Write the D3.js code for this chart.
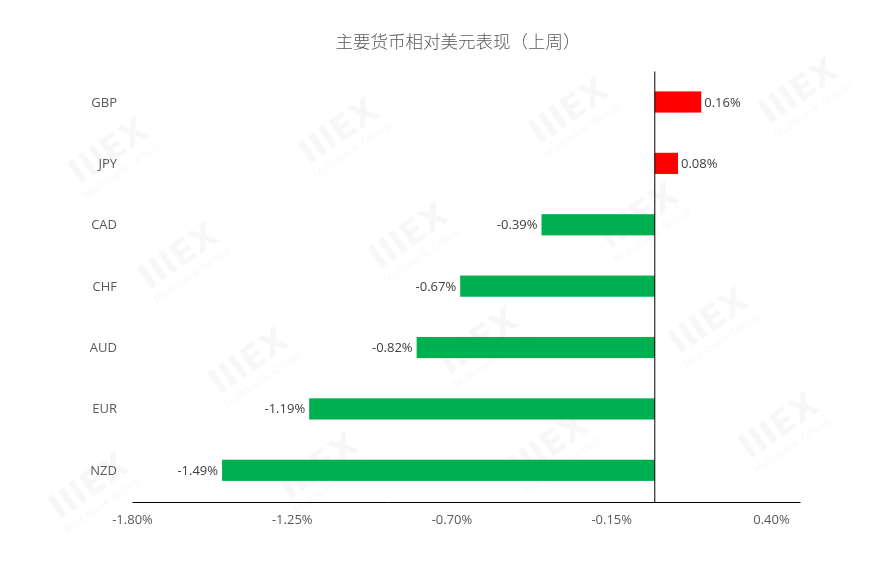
<!DOCTYPE html>
<html><head><meta charset="utf-8">
<script src="https://cdn.jsdelivr.net/npm/d3@7/dist/d3.min.js"></script>
<style>body{margin:0;background:#fff}</style>
</head><body><svg id="c" width="870" height="580"></svg>
<script>
const categories = ["GBP","JPY","CAD","CHF","AUD","EUR","NZD"];
const values = [0.16, 0.08, -0.39, -0.67, -0.82, -1.19, -1.49];
const tickValues = [-1.80, -1.25, -0.70, -0.15, 0.40];
const title = "主要货币相对美元表现（上周）";

const svg = d3.select("#c");
const W = 870, H = 580;
svg.append("rect").attr("width",W).attr("height",H).attr("fill","#fff");

const pct = d => d3.format(".2f")(d).replace("\u2212","-") + "%";

// faint watermarks (kept inside the canvas)
const wm = svg.append("g").attr("fill","#000").attr("opacity",0.035);
const wmPos = [];
for (let r = -1; r < 7; r++) {
  for (let c = -1; c < 5; c++) {
    const px = 45 + c*230 + r*70, py = 55 + r*105 - c*20;
    if (px > 55 && px < W-55 && py > 45 && py < H-45) wmPos.push([px,py]);
  }
}
wmPos.forEach(([x,y])=>{
  const g = wm.append("g").attr("transform",`translate(${x},${y}) rotate(-35)`);
  g.append("text").attr("text-anchor","middle").attr("font-family","DejaVu Sans").attr("font-weight","bold").attr("font-size",34).text("IIIEX");
  g.append("text").attr("text-anchor","middle").attr("y",16).attr("font-family","DejaVu Sans").attr("font-size",11).text("Multibank Group");
});

const x = d3.scaleLinear().domain([-1.8, 0.5]).range([132, 800]);
const y = d3.scaleBand().domain(categories).range([71.3, 501]).paddingInner(0.655).paddingOuter(0.3275);

// title
svg.append("text").attr("x",458).attr("y",48).attr("text-anchor","middle")
  .attr("font-family","'Noto Sans CJK SC'").attr("font-size",17.5).attr("font-weight",300).attr("fill","#595959").text(title);

const font = "'Open Sans', 'Noto Sans', sans-serif";

// bars
svg.selectAll("rect.bar").data(values).join("rect").attr("class","bar")
  .attr("x", d => x(Math.min(0,d)))
  .attr("width", d => Math.abs(x(d)-x(0)))
  .attr("y", (d,i) => y(categories[i]))
  .attr("height", y.bandwidth())
  .attr("fill", d => d >= 0 ? "#FF0000" : "#00B050");

// value labels
svg.selectAll("text.val").data(values).join("text").attr("class","val")
  .attr("x", d => d >= 0 ? x(d)+3 : x(d)-4)
  .attr("y", (d,i) => y(categories[i]) + y.bandwidth()/2)
  .attr("dy","0.35em")
  .attr("text-anchor", d => d >= 0 ? "start" : "end")
  .attr("font-family",font).attr("font-size",13).attr("fill","#404040")
  .text(pct);

// category labels
svg.selectAll("text.cat").data(categories).join("text").attr("class","cat")
  .attr("x",117).attr("y", d => y(d)+y.bandwidth()/2).attr("dy","0.35em")
  .attr("text-anchor","end").attr("font-family",font).attr("font-size",13).attr("fill","#595959")
  .text(d => d);

// x axis
const xAxis = d3.axisBottom(x).tickValues(tickValues).tickSize(0).tickPadding(13)
  .tickFormat(pct);
const ax = svg.append("g").attr("transform","translate(0,502)").call(xAxis);
ax.select(".domain").attr("stroke","#000").attr("stroke-width",1);
ax.selectAll("text").attr("font-family",font).attr("font-size",13).attr("fill","#595959");

// zero line
svg.append("line").attr("x1",x(0)).attr("x2",x(0)).attr("y1",71.5).attr("y2",502)
  .attr("stroke","#000").attr("stroke-width",1);
</script></body></html>
